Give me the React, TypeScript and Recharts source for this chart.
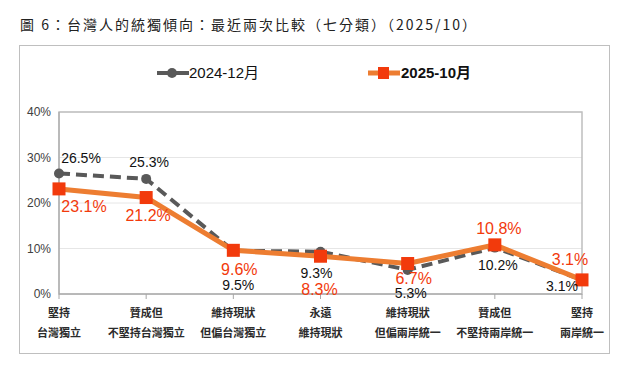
import React from "react";
import {
  CartesianGrid,
  LabelList,
  Legend,
  Line,
  LineChart,
  ReferenceArea,
  XAxis,
  YAxis,
} from "recharts";

const catTop = ["堅持", "贊成但", "維持現狀", "永遠", "維持現狀", "贊成但", "堅持"];
const catBottom = ["台灣獨立", "不堅持台灣獨立", "但偏台灣獨立", "維持現狀", "但偏兩岸統一", "不堅持兩岸統一", "兩岸統一"];
const dec2024 = [26.5, 25.3, 9.5, 9.3, 5.3, 10.2, 3.1];
const oct2025 = [23.1, 21.2, 9.6, 8.3, 6.7, 10.8, 3.1];
const yTicks = [0, 10, 20, 30, 40];

// label offsets from each point (px)
const offDec = [
  [22, -15], [3, -17], [5, 34], [-4, 21], [3, 23], [3, 17], [-20, 6],
];
const offOct = [
  [25, 18], [2, 18], [6, 19], [-1, 33], [6, 15], [4, -16], [-12, -20],
];

const data = catTop.map((c, i) => ({
  key: i,
  top: c,
  bottom: catBottom[i],
  dec: dec2024[i],
  oct: oct2025[i],
}));

const FONT = "'Liberation Sans', Arial, 'Noto Sans CJK TC', sans-serif";
const GREY = "#595959";
const ORANGE = "#ED7D31";
const RED = "#F23A0C";

function CatTick(props: any) {
  const { x, y, payload } = props;
  const d = data[payload.value];
  return (
    <text x={x} textAnchor="middle" fill="#2b2b2b" fontSize={11} fontWeight="bold" fontFamily="'Noto Sans CJK TC', sans-serif">
      <tspan x={x} y={y + 16}>{d.top}</tspan>
      <tspan x={x} y={y + 36}>{d.bottom}</tspan>
    </text>
  );
}

function makeLabel(offsets: number[][], color: string, size: number) {
  return (props: any) => {
    const { x, y, value, index } = props;
    const [dx, dy] = offsets[index] || [0, 0];
    return (
      <text
        x={x + dx}
        y={y + dy}
        textAnchor="middle"
        dominantBaseline="central"
        fill={color}
        fontSize={size}
        fontFamily={FONT}
      >
        {value.toFixed(1)}%
      </text>
    );
  };
}

function SquareDot(props: any) {
  const { cx, cy, index } = props;
  return <rect key={`sq-${index}`} x={cx - 6.5} y={cy - 6.5} width={13} height={13} fill={RED} />;
}

function LegendBox() {
  return (
    <div style={{ position: "relative", height: 20, fontFamily: FONT, fontSize: 15, color: "#111" }}>
      <svg width={34} height={20} style={{ position: "absolute", left: 156, top: 0 }}>
        <line x1={1} y1={10} x2={33} y2={10} stroke={GREY} strokeWidth={4} />
        <circle cx={16} cy={10} r={5} fill={GREY} />
      </svg>
      <span style={{ position: "absolute", left: 189, top: 0, lineHeight: "20px" }}>2024-12月</span>
      <svg width={34} height={20} style={{ position: "absolute", left: 367, top: 0 }}>
        <line x1={1} y1={10} x2={33} y2={10} stroke={ORANGE} strokeWidth={5} />
        <rect x={11} y={4} width={11} height={12} fill={RED} />
      </svg>
      <span style={{ position: "absolute", left: 401, top: 0, lineHeight: "20px", fontWeight: "bold" }}>2025-10月</span>
    </div>
  );
}

export default function App() {
  return (
    <div style={{ position: "absolute", left: 0, top: 0, width: 640, height: 379, background: "#fff" }}>
      <div
        style={{
          position: "absolute",
          left: 20,
          top: 13,
          fontSize: 14,
          letterSpacing: 2,
          color: "#222",
          fontFamily: "'Noto Sans CJK TC', serif",
          lineHeight: "22px",
        }}
      >
        圖 6：台灣人的統獨傾向：最近兩次比較（七分類）（2025/10）
      </div>
      <div
        style={{
          position: "absolute",
          left: 19,
          top: 45,
          width: 589,
          height: 307,
          border: "1.5px solid #bfbfbf",
        }}
      />
      <div style={{ position: "absolute", left: 0, top: 0 }}>
        <LineChart width={640} height={379} data={data} margin={{ top: 92, right: 58, bottom: 35, left: 19 }}>
          <CartesianGrid vertical={false} stroke="#e6e6e6" />
          <ReferenceArea y1={0} y2={40} fill="none" stroke="#bfbfbf" strokeWidth={1.5} ifOverflow="visible" />
          <XAxis
            dataKey="key"
            type="category"
            height={50}
            tick={<CatTick />}
            tickSize={5}
            stroke="#a6a6a6"
            interval={0}
          />
          <YAxis
            domain={[0, 40]}
            ticks={yTicks}
            width={40}
            tickFormatter={(v) => `${v}%`}
            tick={{ fill: "#404040", fontSize: 12, fontFamily: FONT }}
            tickLine={false}
            stroke="#a6a6a6"
          />
          <Legend verticalAlign="top" content={<LegendBox />} wrapperStyle={{ top: 63, left: 0, width: 640 }} />
          <Line
            dataKey="dec"
            stroke={GREY}
            strokeWidth={4}
            strokeDasharray="11 6"
            dot={{ r: 5, fill: GREY, stroke: GREY, strokeWidth: 0 }}
            isAnimationActive={false}
          >
            <LabelList dataKey="dec" content={makeLabel(offDec, "#111", 14)} />
          </Line>
          <Line
            dataKey="oct"
            stroke={ORANGE}
            strokeWidth={5}
            dot={<SquareDot />}
            isAnimationActive={false}
          >
            <LabelList dataKey="oct" content={makeLabel(offOct, RED, 16)} />
          </Line>
        </LineChart>
      </div>
    </div>
  );
}
